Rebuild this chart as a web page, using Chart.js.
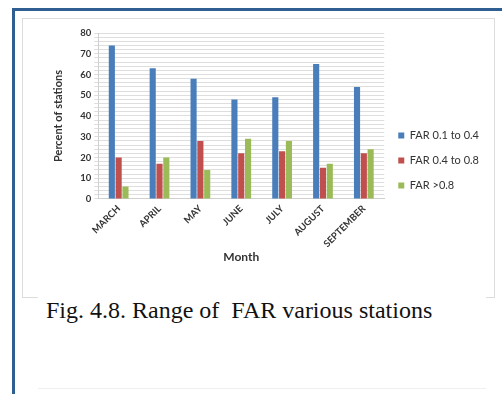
<!DOCTYPE html>
<html>
<head>
<meta charset="utf-8">
<script src="https://cdn.jsdelivr.net/npm/chart.js@4/dist/chart.umd.min.js"></script>
<style>
  html, body { margin: 0; padding: 0; background: #ffffff; }
  body { width: 502px; height: 394px; position: relative; overflow: hidden; }
  #frame {
    position: absolute; left: 12px; top: 8px; width: 492px; height: 390px;
    border-top: 3px solid #2f5f92; border-left: 3px solid #2f5f92;
    box-sizing: border-box;
  }
  #panel {
    position: absolute; left: 22px; top: 18px; width: 473px; height: 280px;
    border: 1px solid #dcdcdc; box-sizing: border-box; background: #fff;
  }
  #wrap { position: absolute; left: 22px; top: 18px; width: 473px; height: 280px; }
  #captionBox {
    position: absolute; left: 38px; top: 296px; width: 448px; height: 92px;
    background: #fff; border-bottom: 1px solid #f0f0f0;
  }
  #caption {
    position: absolute; left: 46px; top: 297px;
    font-family: "Liberation Serif", "DejaVu Serif", serif; font-size: 24px; color: #111;
    white-space: pre;
  }
</style>
</head>
<body>
<div id="frame"></div>
<div id="panel"></div>
<div id="wrap"><canvas id="c" width="473" height="280"></canvas></div>
<div id="captionBox"></div>
<div id="caption">Fig. 4.8. Range of  FAR various stations</div>
<script>
const months = ['MARCH', 'APRIL', 'MAY', 'JUNE', 'JULY', 'AUGUST', 'SEPTEMBER'];
const seriesNames = ['FAR 0.1 to 0.4', 'FAR 0.4 to 0.8', 'FAR >0.8'];
const far01to04 = [74, 63, 58, 48, 49, 65, 54];
const far04to08 = [20, 17, 28, 22, 23, 15, 22];
const farAbove08 = [6, 20, 14, 29, 28, 17, 24];
const seriesColors = ['#4a7ebb', '#c0504d', '#9bbb59'];

const family = 'Lato, "Open Sans", sans-serif';
const axisFont = { family, size: 9.5, weight: 'bold' };

new Chart(document.getElementById('c'), {
  type: 'bar',
  data: {
    labels: months,
    datasets: [far01to04, far04to08, farAbove08].map((vals, i) => ({
      label: seriesNames[i],
      data: vals,
      backgroundColor: seriesColors[i],
      borderWidth: 0,
      categoryPercentage: 0.5,
      barPercentage: 0.9
    }))
  },
  options: {
    responsive: false,
    animation: false,
    devicePixelRatio: 1,
    layout: { padding: { left: 26, right: 6, top: 15, bottom: 30 } },
    plugins: {
      tooltip: { enabled: false },
      legend: {
        position: 'right',
        align: 'center',
        title: { display: true, text: ' ', font: { size: 1 }, padding: { top: 19, bottom: 0 } },
        labels: {
          boxWidth: 6, boxHeight: 6, padding: 14,
          color: '#333',
          font: { family, size: 11 }
        }
      }
    },
    scales: {
      x: {
        grid: { display: false, drawTicks: false },
        border: { color: '#d0d0d0' },
        ticks: {
          color: '#333', font: axisFont, maxRotation: 45, minRotation: 45, padding: 4
        },
        title: {
          display: true, text: 'Month', color: '#333',
          font: { family, size: 12, weight: 'bold' },
          padding: { top: -4 }
        }
      },
      y: {
        min: 0, max: 80,
        grid: { color: '#dedede', tickLength: 4 },
        border: { color: '#d0d0d0' },
        ticks: {
          stepSize: 2, autoSkip: false, color: '#333', font: axisFont, padding: 3,
          callback: v => (v % 10 === 0 ? v : '')
        },
        title: {
          display: true, text: 'Percent of stations', color: '#333',
          font: { family, size: 11, weight: 'bold' },
          padding: { bottom: 12 }
        }
      }
    }
  }
});
</script>
</body>
</html>
